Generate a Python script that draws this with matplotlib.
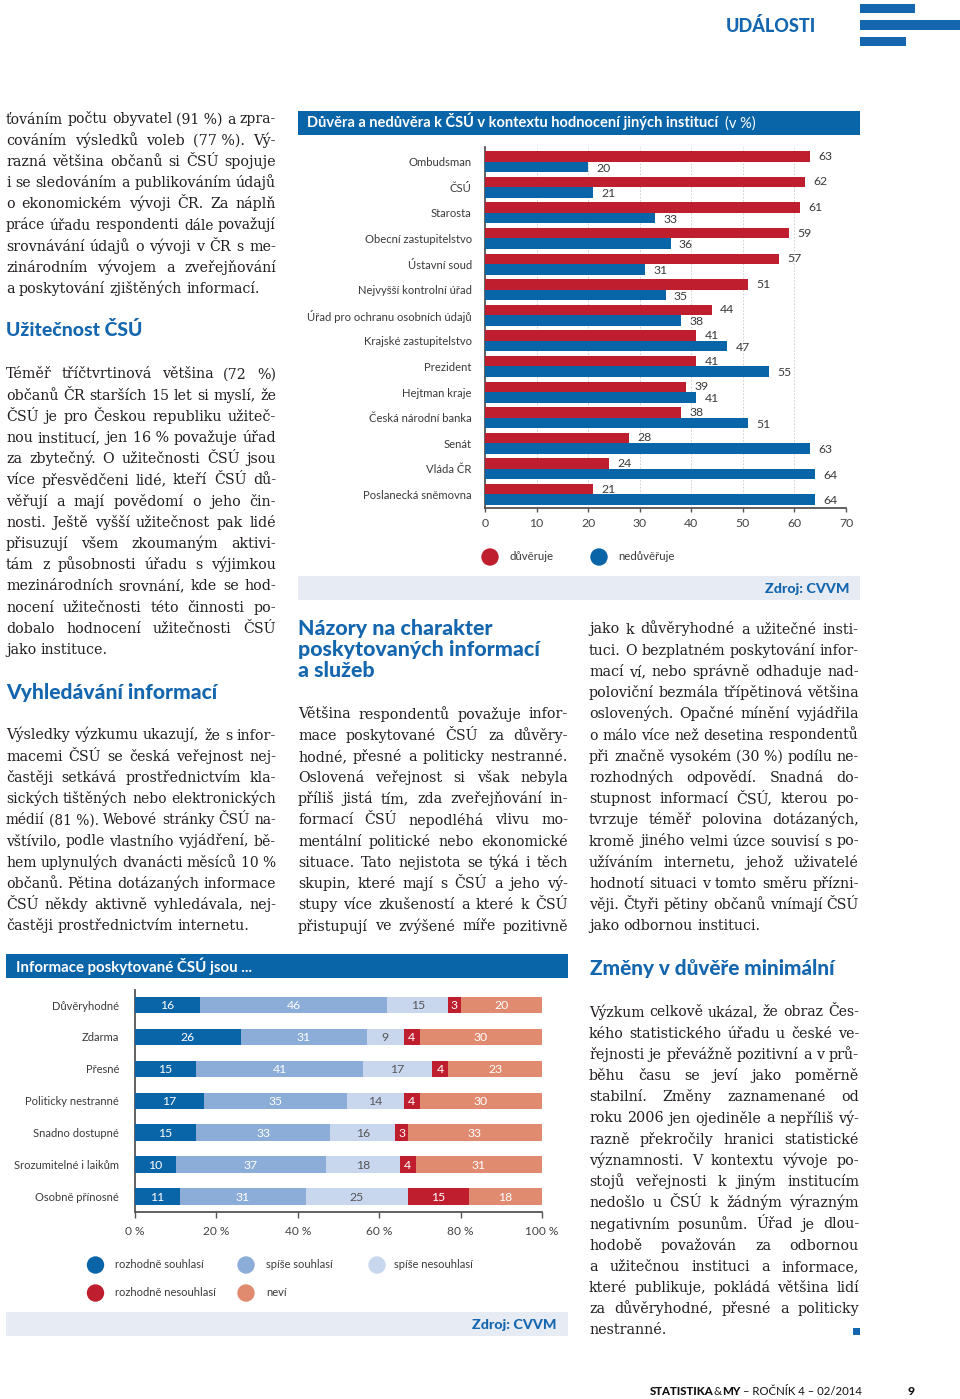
import matplotlib
matplotlib.use('Agg')
import matplotlib.pyplot as plt
from matplotlib.patches import Rectangle, Circle

# ---------------- data ----------------
institutions = ['Ombudsman', 'ČSÚ', 'Starosta', 'Obecní zastupitelstvo', 'Ústavní soud',
                'Nejvyšší kontrolní úřad', 'Úřad pro ochranu osobních údajů',
                'Krajské zastupitelstvo', 'Prezident', 'Hejtman kraje',
                'Česká národní banka', 'Senát', 'Vláda ČR', 'Poslanecká sněmovna']
trust = [63, 62, 61, 59, 57, 51, 44, 41, 41, 39, 38, 28, 24, 21]
distrust = [20, 21, 33, 36, 31, 35, 38, 47, 55, 41, 51, 63, 64, 64]
trust_ticks = [0, 10, 20, 30, 40, 50, 60, 70]

info_cats = ['Důvěryhodné', 'Zdarma', 'Přesné', 'Politicky nestranné', 'Snadno dostupné',
             'Srozumitelné i laikům', 'Osobně přínosné']
definitely_agree = [16, 26, 15, 17, 15, 10, 11]
rather_agree = [46, 31, 41, 35, 33, 37, 31]
rather_disagree = [15, 9, 17, 14, 16, 18, 25]
definitely_disagree = [3, 4, 4, 4, 3, 4, 15]
dont_know = [20, 30, 23, 30, 33, 31, 18]
info_series_names = ['rozhodně souhlasí', 'spíše souhlasí', 'spíše nesouhlasí',
                     'rozhodně nesouhlasí', 'neví']
pct_ticks = [0, 20, 40, 60, 80, 100]
pct_labels = ['0 %', '20 %', '40 %', '60 %', '80 %', '100 %']

# ---------------- style ----------------
W, H = 960, 1399
SANS = ['Lato', 'DejaVu Sans']
SERIF = ['DejaVu Serif']
BLUE = '#1466ae'
BAR_BLUE = '#0a64a8'
BAR_RED = '#be1e2d'
MID_BLUE = '#8badd8'
LIGHT_BLUE = '#c8d7ee'
SALMON = '#e08a70'
BAND = '#e6ebf4'
TXT = '#231f20'
LBL = '#3a3a3a'

fig = plt.figure(figsize=(W / 100, H / 100), dpi=100)
renderer = fig.canvas.get_renderer()
bg = fig.add_axes([0, 0, 1, 1])
bg.set_xlim(0, W)
bg.set_ylim(H, 0)
bg.axis('off')


def fit(x, y, s, width, color=TXT, weight='normal', family=SANS, ha='left', va='baseline', size=10):
    t = bg.text(x, y, s, fontsize=size, color=color, fontweight=weight, family=family, ha=ha, va=va)
    w = t.get_window_extent(renderer).width
    t.set_fontsize(size * width / w)
    return t


def width_of(s, size, family=SERIF, weight='normal'):
    t = bg.text(0, 0, s, fontsize=size, family=family, fontweight=weight)
    w = t.get_window_extent(renderer).width
    t.remove()
    return w


# ---------------- header / footer ----------------
fit(726, 31.5, 'UDÁLOSTI', 90, color=BLUE, weight='black')
bg.add_patch(Rectangle((860, 3.5), 55, 9.5, color=BLUE, lw=0))
bg.add_patch(Rectangle((860, 20), 100, 9.5, color=BLUE, lw=0))
bg.add_patch(Rectangle((860, 36.5), 46, 9.5, color=BLUE, lw=0))

fs_foot = 8.2
x = 650
for piece, wt in [('STATISTIKA', 'black'), ('&', 'normal'), ('MY', 'black'),
                  (' – ROČNÍK 4 – 02/2014', 'normal')]:
    t = bg.text(x, 1395, piece, fontsize=fs_foot, family=SANS, fontweight=wt, color='#111', va='baseline')
    x += t.get_window_extent(renderer).width
bg.text(907, 1395, '9', fontsize=fs_foot + 0.5, family=SANS, fontweight='black', color='#111', va='baseline')

# ---------------- body text ----------------
blocks = [
    (6, 276, 123.5, [
        'ťováním počtu obyvatel (91\u00a0%) a zpra-',
        'cováním výsledků voleb (77\u00a0%). Vý-',
        'razná většina občanů si ČSÚ spojuje',
        'i se sledováním a publikováním údajů',
        'o ekonomickém vývoji ČR. Za náplň',
        'práce úřadu respondenti dále považují',
        'srovnávání údajů o vývoji v ČR s me-',
        'zinárodním vývojem a zveřejňování',
        'a poskytování zjištěných informací.'], False),
    (6, 276, 378.5, [
        'Téměř tříčtvrtinová většina (72 %)',
        'občanů ČR starších 15 let si myslí, že',
        'ČSÚ je pro Českou republiku užiteč-',
        'nou institucí, jen 16\u00a0% považuje úřad',
        'za zbytečný. O užitečnosti ČSÚ jsou',
        'více přesvědčeni lidé, kteří ČSÚ dů-',
        'věřují a mají povědomí o jeho čin-',
        'nosti. Ještě vyšší užitečnost pak lidé',
        'přisuzují všem zkoumaným aktivi-',
        'tám z působnosti úřadu s výjimkou',
        'mezinárodních srovnání, kde se hod-',
        'nocení užitečnosti této činnosti po-',
        'dobalo hodnocení užitečnosti ČSÚ',
        'jako instituce.'], False),
    (6, 276, 739.5, [
        'Výsledky výzkumu ukazují, že s infor-',
        'macemi ČSÚ se česká veřejnost nej-',
        'častěji setkává prostřednictvím kla-',
        'sických tištěných nebo elektronických',
        'médií (81\u00a0%). Webové stránky ČSÚ na-',
        'vštívilo, podle vlastního vyjádření, bě-',
        'hem uplynulých dvanácti měsíců 10\u00a0%',
        'občanů. Pětina dotázaných informace',
        'ČSÚ někdy aktivně vyhledávala, nej-',
        'častěji prostřednictvím internetu.'], False),
    (298, 568, 718.5, [
        'Většina respondentů považuje infor-',
        'mace poskytované ČSÚ za důvěry-',
        'hodné, přesné a politicky nestranné.',
        'Oslovená veřejnost si však nebyla',
        'příliš jistá tím, zda zveřejňování in-',
        'formací ČSÚ nepodléhá vlivu mo-',
        'mentální politické nebo ekonomické',
        'situace. Tato nejistota se týká i těch',
        'skupin, které mají s ČSÚ a jeho vý-',
        'stupy více zkušeností a které k ČSÚ',
        'přistupují ve zvýšené míře pozitivně'], True),
    (589, 859, 633.5, [
        'jako k důvěryhodné a užitečné insti-',
        'tuci. O bezplatném poskytování infor-',
        'mací ví, nebo správně odhaduje nad-',
        'poloviční bezmála třípětinová většina',
        'oslovených. Opačné mínění vyjádřila',
        'o málo více než desetina respondentů',
        'při značně vysokém (30\u00a0%) podílu ne-',
        'rozhodných odpovědí. Snadná do-',
        'stupnost informací ČSÚ, kterou po-',
        'tvrzuje téměř polovina dotázaných,',
        'kromě jiného velmi úzce souvisí s po-',
        'užíváním internetu, jehož uživatelé',
        'hodnotí situaci v tomto směru přízni-',
        'věji. Čtyři pětiny občanů vnímají ČSÚ',
        'jako odbornou instituci.'], False),
    (589, 859, 1016.5, [
        'Výzkum celkově ukázal, že obraz Čes-',
        'kého statistického úřadu u české ve-',
        'řejnosti je převážně pozitivní a v prů-',
        'běhu času se jeví jako poměrně',
        'stabilní. Změny zaznamenané od',
        'roku 2006 jen ojediněle a nepříliš vý-',
        'razně překročily hranici statistické',
        'významnosti. V kontextu vývoje po-',
        'stojů veřejnosti k jiným institucím',
        'nedošlo u ČSÚ k žádným výrazným',
        'negativním posunům. Úřad je dlou-',
        'hodobě považován za odbornou',
        'a užitečnou instituci a informace,',
        'které publikuje, pokládá většina lidí',
        'za důvěryhodné, přesné a politicky',
        'nestranné.'], False),
]
LINE_H = 21.2

# choose body size: most justified lines fit with normal spaces; tight ones get shrunk
ref = 10.0
sp_ref = width_of('n n', ref) - width_of('nn', ref)
ratios = []
for x0, x1, y0, lines, lastj in blocks:
    for i, ln in enumerate(lines):
        if i == len(lines) - 1 and not lastj:
            continue
        words = ln.split(' ')
        nat = sum(width_of(w, ref) for w in words) + sp_ref * (len(words) - 1)
        ratios.append((x1 - x0) / nat)
ratios.sort()
body_fs = min(11.5, ref * ratios[int(0.2 * len(ratios))])

for x0, x1, y0, lines, lastj in blocks:
    for i, ln in enumerate(lines):
        y = y0 + i * LINE_H
        justify = not (i == len(lines) - 1 and not lastj)
        words = ln.split(' ')
        fs = body_fs
        ts = [bg.text(0, y, w, fontsize=fs, family=SERIF, color=TXT, va='baseline') for w in words]
        ws = [t.get_window_extent(renderer).width for t in ts]
        sp = width_of('n n', fs) - width_of('nn', fs)
        nat = sum(ws) + sp * (len(words) - 1)
        if nat > (x1 - x0):
            scale = (x1 - x0) / nat
            fs = fs * scale
            for t in ts:
                t.set_fontsize(fs)
            ws = [w * scale for w in ws]
            sp = sp * scale
        gap = (x1 - x0 - sum(ws)) / (len(words) - 1) if (justify and len(words) > 1) else sp
        xx = x0
        for t, w in zip(ts, ws):
            t.set_x(xx)
            xx += w + gap

bg.add_patch(Rectangle((853, 1328), 7, 7, color=BLUE, lw=0))

# headings
fit(6, 336, 'Užitečnost ČSÚ', 136, color=BLUE, weight='black')
fit(6, 699, 'Vyhledávání informací', 211, color=BLUE, weight='black')
t = fit(298, 635, 'Názory na charakter', 194, color=BLUE, weight='black')
hs = t.get_fontsize()
bg.text(298, 656, 'poskytovaných informací', fontsize=hs, color=BLUE, fontweight='black', family=SANS, va='baseline')
bg.text(298, 677, 'a služeb', fontsize=hs, color=BLUE, fontweight='black', family=SANS, va='baseline')
fit(590, 975, 'Změny v důvěře minimální', 246, color=BLUE, weight='black')

# ---------------- chart 1: trust ----------------
bg.add_patch(Rectangle((298, 111), 562, 24, color=BAR_BLUE, lw=0))
t = fit(307, 127.5, 'Důvěra a nedůvěra k ČSÚ v kontextu hodnocení jiných institucí', 412,
        color='white', weight='bold')
bg.text(307 + 412 + 6, 127.5, '(v %)', fontsize=t.get_fontsize(), color='white', family=SANS, va='baseline')

ax1 = fig.add_axes([485 / W, 1 - 508 / H, (846 - 485) / W, (508 - 147) / H])
ax1.set_facecolor('none')
n = len(institutions)
ypos = list(range(n))
bh = 0.41
ax1.barh([y - bh / 2 for y in ypos], trust, height=bh, color=BAR_RED, zorder=3)
ax1.barh([y + bh / 2 for y in ypos], distrust, height=bh, color=BAR_BLUE, zorder=3)
for y, v in zip(ypos, trust):
    ax1.annotate(str(v), (v, y - bh / 2), xytext=(6, 0), textcoords='offset points',
                 va='center', ha='left', fontsize=8.8, color=LBL, family=SANS)
for y, v in zip(ypos, distrust):
    ax1.annotate(str(v), (v, y + bh / 2 + 0.05), xytext=(6, 0), textcoords='offset points',
                 va='center', ha='left', fontsize=8.8, color=LBL, family=SANS)
ax1.set_xlim(0, 70)
ax1.set_ylim(n - 0.47, -0.57)
ax1.set_yticks(ypos)
ax1.set_yticklabels(institutions, fontsize=8.1, color=LBL, family=SANS)
ax1.tick_params(axis='y', length=0, pad=9.5)
ax1.set_xticks(trust_ticks)
ax1.set_xticklabels([str(v) for v in trust_ticks], fontsize=8.8, color='#444', family=SANS)
ax1.tick_params(axis='x', length=3, width=1, color='#555', pad=4.5)
for tk in trust_ticks[1:]:
    ax1.axvline(tk, color='#c8c8c8', lw=0.6, ls=(0, (2, 2)), zorder=1)
for s in ['top', 'right']:
    ax1.spines[s].set_visible(False)
for s in ['left', 'bottom']:
    ax1.spines[s].set_color('#555')
    ax1.spines[s].set_linewidth(1.3)

# legend 1
bg.add_patch(Circle((490, 557), 8.7, color=BAR_RED, lw=0))
bg.text(509.5, 557, 'důvěruje', fontsize=8.2, color=LBL, family=SANS, va='center')
bg.add_patch(Circle((599, 557), 8.7, color=BAR_BLUE, lw=0))
bg.text(618, 557, 'nedůvěřuje', fontsize=8.2, color=LBL, family=SANS, va='center')

bg.add_patch(Rectangle((298, 576), 562, 24, color=BAND, lw=0))
fit(849.5, 593, 'Zdroj: CVVM', 84, color=BLUE, weight='black', ha='right')

# ---------------- chart 2: information ----------------
bg.add_patch(Rectangle((6, 954), 562, 24, color=BAR_BLUE, lw=0))
fit(15.5, 972, 'Informace poskytované ČSÚ jsou ...', 237, color='white', weight='bold')

ax2 = fig.add_axes([135 / W, 1 - 1212 / H, (542 - 135) / W, (1212 - 990) / H])
ax2.set_facecolor('none')
m = len(info_cats)
ypos2 = list(range(m))
series = [definitely_agree, rather_agree, rather_disagree, definitely_disagree, dont_know]
colors = [BAR_BLUE, MID_BLUE, LIGHT_BLUE, BAR_RED, SALMON]
txtcol = ['white', 'white', '#555555', 'white', 'white']
left = [0] * m
for vals, c, tc in zip(series, colors, txtcol):
    ax2.barh(ypos2, vals, left=left, height=0.52, color=c, zorder=3)
    for y, v, l in zip(ypos2, vals, left):
        ax2.text(l + v / 2, y + 0.03, str(v), ha='center', va='center', fontsize=8.8,
                 color=tc, family=SANS, zorder=4)
    left = [a + b for a, b in zip(left, vals)]
ax2.set_xlim(0, 100)
ax2.set_ylim(m - 1 + 0.48, -0.47)
ax2.set_yticks(ypos2)
ax2.set_yticklabels(info_cats, fontsize=8.0, color=LBL, family=SANS)
ax2.tick_params(axis='y', length=0, pad=11.5)
ax2.set_xticks(pct_ticks)
ax2.set_xticklabels(pct_labels, fontsize=8.6, color='#444', family=SANS)
ax2.tick_params(axis='x', length=4, width=1, color='#555', pad=6)
for s in ['top', 'right']:
    ax2.spines[s].set_visible(False)
for s in ['left', 'bottom']:
    ax2.spines[s].set_color('#555')
    ax2.spines[s].set_linewidth(1.3)

# legend 2
leg_pos = [(95.5, 1265, 115), (246, 1265, 266), (377, 1265, 394), (95.5, 1293, 115), (246, 1293, 266)]
for (cx, cy, tx), c, name in zip(leg_pos, colors, info_series_names):
    bg.add_patch(Circle((cx, cy), 8.7, color=c, lw=0))
    bg.text(tx, cy, name, fontsize=8.0, color=LBL, family=SANS, va='center')

bg.add_patch(Rectangle((6, 1312), 562, 24, color=BAND, lw=0))
fit(557, 1329, 'Zdroj: CVVM', 84, color=BLUE, weight='black', ha='right')

fig.savefig('out.png', dpi=100)
